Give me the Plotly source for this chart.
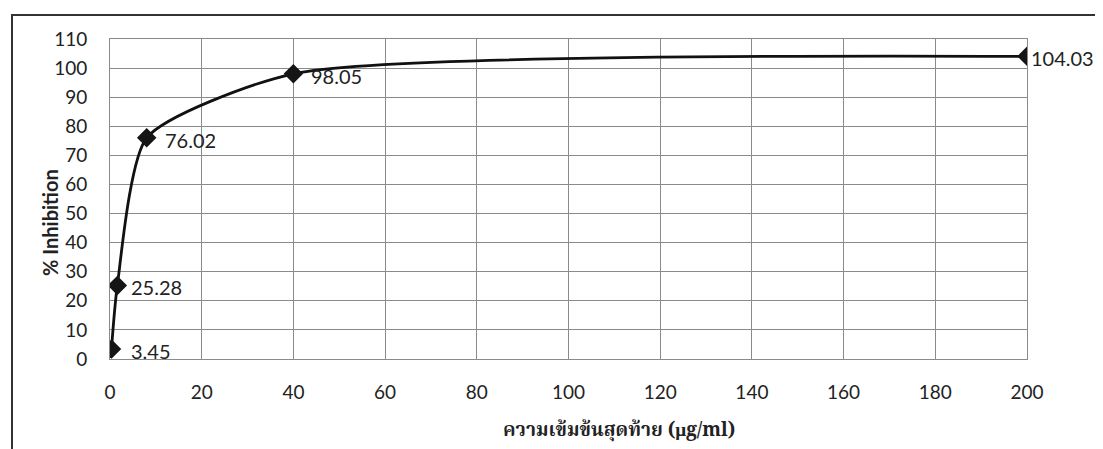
import plotly.graph_objects as go

concentration = [0.32, 1.6, 8, 40, 200]
inhibition = [3.45, 25.28, 76.02, 98.05, 104.03]
point_labels = ["3.45", "25.28", "76.02", "98.05", "104.03"]
label_dx = [18, 12, 16, 16, 2]

x_title = "ความเข้มข้นสุดท้าย (µg/ml)"
y_title = "% Inhibition"

# plot area in page pixels (page has an 8px body margin)
PL, PR, PT, PB = 110, 1027, 39, 359


def px_x(p):
    return (p - PL) / (PR - PL)


def px_y(p):
    return (PB - p) / (PB - PT)


fig = go.Figure()
fig.add_trace(go.Scatter(
    x=concentration, y=inhibition, mode="lines+markers",
    line=dict(color="#111111", width=2.8, shape="spline", smoothing=0.6),
    marker=dict(symbol="diamond", size=15, color="#151515"),
    showlegend=False, hoverinfo="x+y",
))

for xv, yv, lab, dx in zip(concentration, inhibition, point_labels, label_dx):
    fig.add_annotation(x=xv, y=yv, text=lab, showarrow=False, xanchor="left",
                       yanchor="middle", xshift=dx, yshift=-2,
                       font=dict(family="Lato, Open Sans, sans-serif", size=20, color="#222222"))

fig.add_annotation(xref="paper", yref="paper", x=px_x(619), y=px_y(431),
                   text="<b>" + x_title + "</b>", showarrow=False,
                   xanchor="center", yanchor="middle",
                   font=dict(family="Noto Serif Thai, Noto Sans Thai, Liberation Serif, serif",
                             size=19, color="#222222"))

fig.add_annotation(xref="paper", yref="paper", x=px_x(50), y=px_y(222),
                   text="<b>" + y_title + "</b>", showarrow=False, textangle=-90,
                   xanchor="center", yanchor="middle",
                   font=dict(family="Lato, Open Sans, sans-serif", size=20, color="#222222"))

fig.add_shape(type="rect", xref="paper", yref="paper",
              x0=px_x(12), x1=1.2, y0=-0.5, y1=px_y(15),
              line=dict(color="#333333", width=2), layer="below")

fig.update_layout(
    width=1095, height=441,
    margin=dict(l=102, r=76, t=31, b=90),
    paper_bgcolor="white", plot_bgcolor="white",
    font=dict(family="Lato, Open Sans, sans-serif", size=19, color="#222222"),
    xaxis=dict(
        range=[0, 200], tick0=0, dtick=20, showgrid=True,
        gridcolor="#8a8a8a", gridwidth=1, zeroline=False,
        showline=True, linecolor="#8a8a8a", mirror=True,
        ticks="", ticklabelstandoff=16,
    ),
    yaxis=dict(
        range=[0, 110], tick0=0, dtick=10, showgrid=True,
        gridcolor="#8a8a8a", gridwidth=1, zeroline=False,
        showline=True, linecolor="#8a8a8a", mirror=True,
        ticks="", ticklabelstandoff=18,
    ),
)

fig.write_html("out.html")
